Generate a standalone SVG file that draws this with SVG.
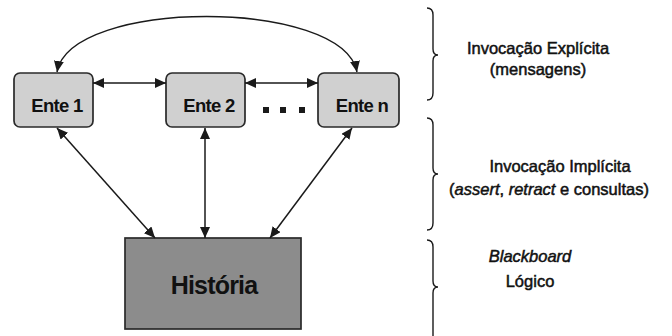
<svg xmlns="http://www.w3.org/2000/svg" width="672" height="336" viewBox="0 0 672 336">
<defs>
<marker id="ah" viewBox="0 0 11 10" refX="11" refY="5" markerWidth="11" markerHeight="10" markerUnits="userSpaceOnUse" orient="auto-start-reverse">
<path d="M0,0 L11,5 L0,10 z" fill="#1a1a1a"/>
</marker>
</defs>
<style>
.ente{fill:#d0d0d0;stroke:#2a2a2a;stroke-width:1.7}
.hist{fill:#8c8c8c;stroke:#2a2a2a;stroke-width:1.7}
.lbl{font-family:"Liberation Sans",Arial,sans-serif;font-weight:bold;fill:#111;text-anchor:middle}
.conn{fill:none;stroke:#1a1a1a;stroke-width:1.5;marker-start:url(#ah);marker-end:url(#ah)}
.brace{fill:none;stroke:#1a1a1a;stroke-width:1.4}
.note{font-family:"Liberation Sans",Arial,sans-serif;font-size:16.5px;fill:#111;text-anchor:middle;stroke:#111;stroke-width:0.5}
</style>
<rect width="672" height="336" fill="#fff"/>
<g id="ente1">
<rect class="ente" x="14" y="73" width="79" height="54" rx="6"/>
<text class="lbl" x="57" y="112" font-size="18.5" letter-spacing="-0.7">Ente 1</text>
</g>
<g id="ente2">
<rect class="ente" x="166" y="73" width="79" height="54" rx="6"/>
<text class="lbl" x="209" y="112" font-size="18.5" letter-spacing="-0.7">Ente 2</text>
</g>
<g id="enten">
<rect class="ente" x="318" y="73" width="81" height="54" rx="6"/>
<text class="lbl" x="362" y="112" font-size="18.5" letter-spacing="-0.7">Ente n</text>
</g>
<g id="dots" fill="#1a1a1a">
<rect x="263" y="107" width="6" height="6"/>
<rect x="280" y="107" width="6" height="6"/>
<rect x="299" y="107" width="6" height="6"/>
</g>
<g id="historia">
<rect class="hist" x="125" y="238" width="176" height="91"/>
<text class="lbl" x="214" y="294" font-size="25" letter-spacing="-0.8">História</text>
</g>
<g id="connectors">
<path class="conn" d="M 57 72 C 70 -2, 343 -2, 357 72"/>
<line class="conn" x1="93" y1="83" x2="166" y2="83"/>
<line class="conn" x1="245" y1="83" x2="318" y2="83"/>
<line class="conn" x1="57" y1="128" x2="155" y2="238"/>
<line class="conn" x1="205" y1="128" x2="205" y2="238"/>
<line class="conn" x1="352" y1="128" x2="270" y2="238"/>
</g>
<g id="braces">
<path class="brace" d="M 427 8 Q 433 8 433 15 L 433 49 Q 433 55 438 55 Q 433 55 433 61 L 433 93 Q 433 100 427 100"/>
<path class="brace" d="M 427 118 Q 433 118 433 125 L 433 168 Q 433 174 438 174 Q 433 174 433 180 L 433 223 Q 433 230 427 230"/>
<path class="brace" d="M 427 240 Q 433 240 433 247 L 433 281 Q 433 287 438 287 Q 433 287 433 293 L 433 336"/>
</g>
<g id="labels">
<text class="note" x="538" y="54">Invocação Explícita</text>
<text class="note" x="538" y="75">(mensagens)</text>
<text class="note" x="560" y="172">Invocação Implícita</text>
<text class="note" x="549" y="195">(<tspan font-style="italic">assert</tspan>, <tspan font-style="italic">retract</tspan> e consultas)</text>
<text class="note" x="530" y="262" font-style="italic">Blackboard</text>
<text class="note" x="530" y="287">Lógico</text>
</g>
</svg>
